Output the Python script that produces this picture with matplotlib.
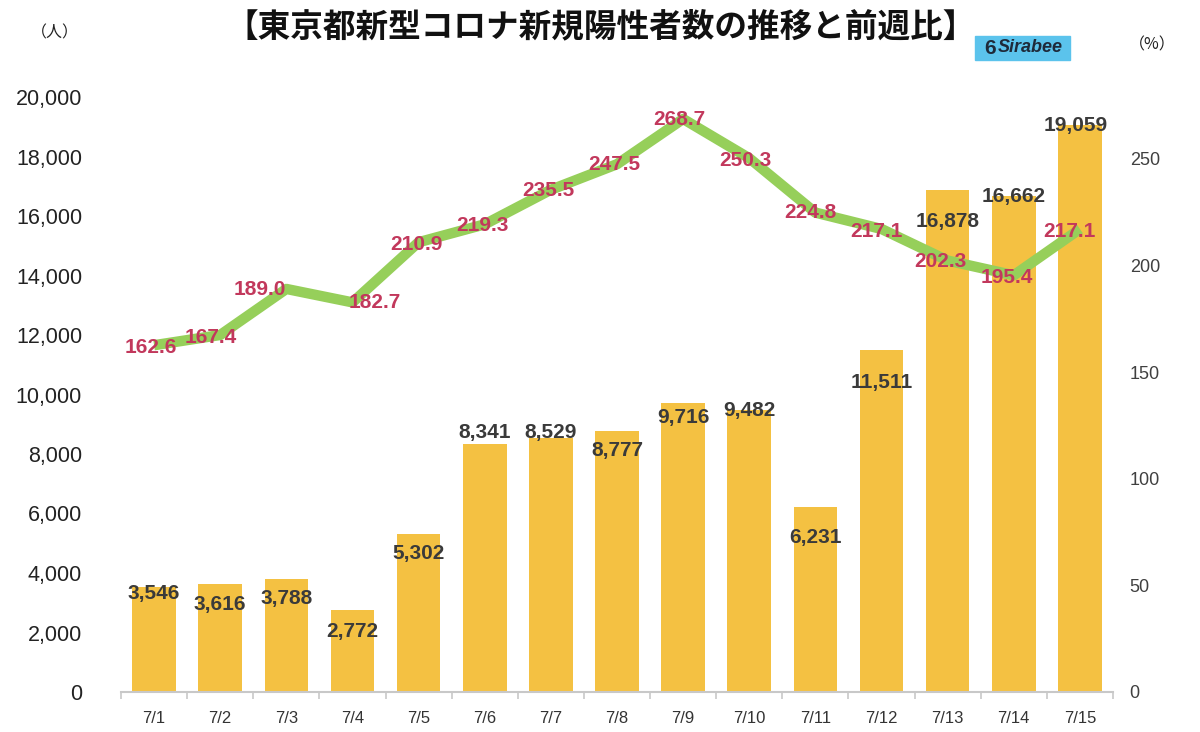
import numpy as np
import matplotlib
matplotlib.use("Agg")
import matplotlib.pyplot as plt
from matplotlib.patches import Rectangle

plt.rcParams['font.family'] = ['Liberation Sans', 'Noto Sans CJK JP', 'DejaVu Sans']

# data
dates = ['7/1', '7/2', '7/3', '7/4', '7/5', '7/6', '7/7', '7/8',
         '7/9', '7/10', '7/11', '7/12', '7/13', '7/14', '7/15']
cases = [3546, 3616, 3788, 2772, 5302, 8341, 8529, 8777,
         9716, 9482, 6231, 11511, 16878, 16662, 19059]
ratio = [162.6, 167.4, 189.0, 182.7, 210.9, 219.3, 235.5, 247.5,
         268.7, 250.3, 224.8, 217.1, 202.3, 195.4, 217.1]
left_ticks = [0, 2000, 4000, 6000, 8000, 10000, 12000, 14000, 16000, 18000, 20000]
right_ticks = [0, 50, 100, 150, 200, 250]
title = '【東京都新型コロナ新規陽性者数の推移と前週比】'

# label nudges in pixels (dx, dy), picked by eye
case_off = [(0, -7), (0, -20), (0, -19), (0, -22), (0, -19), (0, 11), (0, 6), (0, -20),
            (0, -15), (0, -1), (0, -31), (0, -33), (0, -32), (0, 0), (-4, -1)]
ratio_off = [(-3, -2), (-9, -2), (-27, -1), (22, 0), (-2, -2), (-2, -1), (-2, -1), (-3, 0),
             (-4, -1), (-4, -2), (-5, 0), (-5, -2), (-7, -1), (-7, -2), (-10, -2)]

bar_color = '#F4C142'
line_color = '#96CF5A'
ratio_color = '#C2385C'
num_color = '#3A3A3A'

fig = plt.figure(figsize=(12, 7.32), dpi=100)
ax = fig.add_axes([121 / 1200, 40 / 732, (1113 - 121) / 1200, (692 - 97) / 732])
x = np.arange(len(dates))
ax.bar(x, cases, width=0.66, color=bar_color, zorder=2)
ax.set_xlim(-0.5, len(dates) - 0.5)
ax.set_ylim(0, 20000)
ax.set_yticks(left_ticks)
ax.set_yticklabels([f'{t:,}' for t in left_ticks], fontsize=15.5, color='#222222')
ax.set_xticks(x)
ax.set_xticklabels(dates, fontsize=12, color='#333333')
ax.set_xticks(np.arange(-0.5, len(dates)), minor=True)
ax.tick_params(axis='x', which='major', length=0, pad=14)
ax.tick_params(axis='x', which='minor', length=5, color='#C8C8C8', width=1.2)
ax.tick_params(axis='y', length=0, pad=28)
for s in ['top', 'right', 'left']:
    ax.spines[s].set_visible(False)
ax.spines['bottom'].set_color('#C8C8C8')
ax.spines['bottom'].set_linewidth(1.5)

ax2 = ax.twinx()
ax2.set_ylim(0, 279)
ax2.plot(x, ratio, color=line_color, lw=7.5, solid_joinstyle='round',
         solid_capstyle='butt', zorder=3)
ax2.set_yticks(right_ticks)
ax2.set_yticklabels([str(t) for t in right_ticks], fontsize=13, color='#404040')
ax2.tick_params(axis='y', length=0, pad=12)
for s in ['top', 'right', 'left', 'bottom']:
    ax2.spines[s].set_visible(False)

for i, v in enumerate(cases):
    ax2.annotate(f'{v:,}', xy=(x[i], v), xycoords=ax.transData,
                 xytext=case_off[i], textcoords='offset pixels',
                 ha='center', va='center', fontsize=15, fontweight='bold',
                 color=num_color, zorder=5)
for i, v in enumerate(ratio):
    ax2.annotate(f'{v:.1f}', xy=(x[i], v), xycoords=ax2.transData,
                 xytext=ratio_off[i], textcoords='offset pixels',
                 ha='center', va='center', fontsize=15, fontweight='bold',
                 color=ratio_color, zorder=6)

# title and unit labels
fig.text(601 / 1200, 1 - 27 / 732, title, ha='center', va='center',
         fontsize=23.5, fontweight='bold', family=['Noto Sans CJK JP'], color='#111111')
fig.text(55 / 1200, 1 - 33 / 732, '（人）', ha='center', va='center',
         fontsize=11.5, family=['Noto Sans CJK JP'], color='#222222')
fig.text(1152 / 1200, 1 - 45 / 732, '（%）', ha='center', va='center',
         fontsize=11.5, family=['Noto Sans CJK JP'], color='#222222')

# Sirabee badge
fig.patches.append(Rectangle((975 / 1200, 1 - 60 / 732), 95 / 1200, 24 / 732,
                             transform=fig.transFigure, color='#5BC3EC', zorder=1))
fig.text(990 / 1200, 1 - 48 / 732, '6', ha='center', va='center', fontsize=15,
         fontweight='bold', color='#1E2A3A')
fig.text(1030 / 1200, 1 - 48 / 732, 'Sirabee', ha='center', va='center', fontsize=13,
         fontweight='bold', style='italic', color='#1E2A3A')

fig.savefig('out.png', dpi=100)
